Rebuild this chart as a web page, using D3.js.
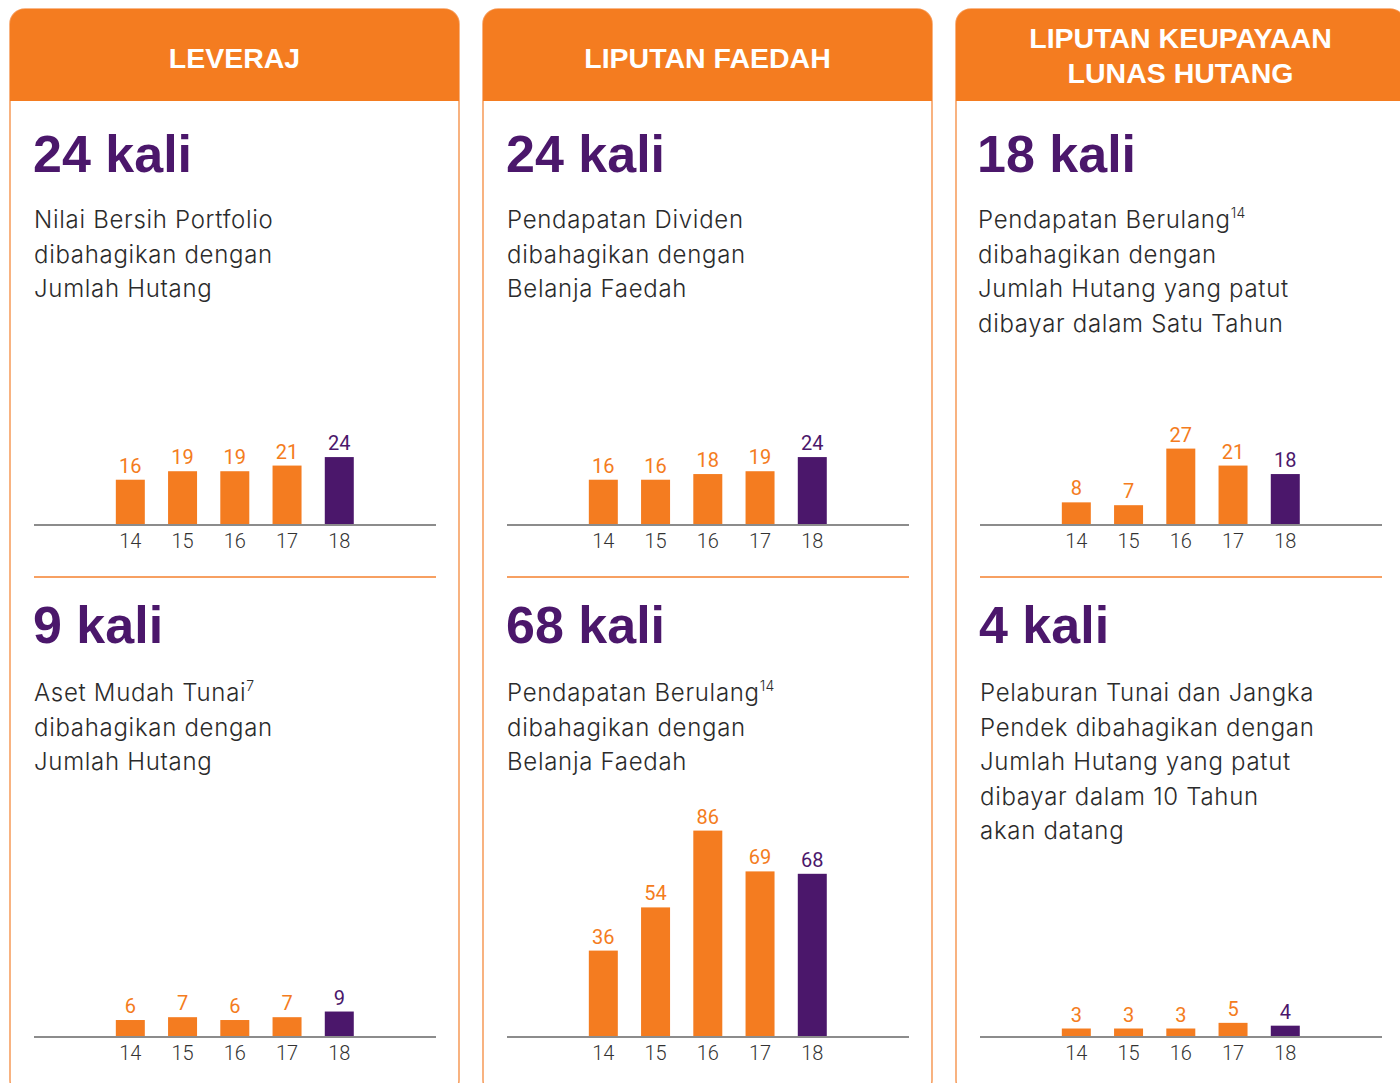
<!DOCTYPE html>
<html>
<head>
<meta charset="utf-8">
<script src="https://cdn.jsdelivr.net/npm/d3@7"></script>
<style>
  html, body { margin: 0; padding: 0; background: #fff; }
  svg { display: block; }
</style>
</head>
<body>
<svg id="chart" width="1400" height="1083"></svg>
<script>
// data
var years = ["14", "15", "16", "17", "18"];
var leverajValues = [16, 19, 19, 21, 24];
var asetTunaiValues = [6, 7, 6, 7, 9];
var dividenValues = [16, 16, 18, 19, 24];
var berulangFaedahValues = [36, 54, 86, 69, 68];
var berulangSatuTahunValues = [8, 7, 27, 21, 18];
var pelaburanValues = [3, 3, 3, 5, 4];

var headers = [["LEVERAJ"], ["LIPUTAN FAEDAH"], ["LIPUTAN KEUPAYAAN", "LUNAS HUTANG"]];
var headlines = [["24 kali", "9 kali"], ["24 kali", "68 kali"], ["18 kali", "4 kali"]];
// each line: [text, superscript]
var descriptions = [
  [
    [["Nilai Bersih Portfolio"], ["dibahagikan dengan"], ["Jumlah Hutang"]],
    [["Aset Mudah Tunai", "7"], ["dibahagikan dengan"], ["Jumlah Hutang"]]
  ],
  [
    [["Pendapatan Dividen"], ["dibahagikan dengan"], ["Belanja Faedah"]],
    [["Pendapatan Berulang", "14"], ["dibahagikan dengan"], ["Belanja Faedah"]]
  ],
  [
    [["Pendapatan Berulang", "14"], ["dibahagikan dengan"], ["Jumlah Hutang yang patut"], ["dibayar dalam Satu Tahun"]],
    [["Pelaburan Tunai dan Jangka"], ["Pendek dibahagikan dengan"], ["Jumlah Hutang yang patut"], ["dibayar dalam 10 Tahun"], ["akan datang"]]
  ]
];
var series = [
  [leverajValues, asetTunaiValues],
  [dividenValues, berulangFaedahValues],
  [berulangSatuTahunValues, pelaburanValues]
];

var ORANGE = "#f47c20";
var PURPLE = "#4b176b";
var BORDER = "#f7a062";
var boldFont = "'Liberation Sans', Arial, sans-serif";
var lightFont = "Inter, Roboto, sans-serif";
var numFont = "Roboto, 'Liberation Sans', sans-serif";

var svg = d3.select("#chart");

var panelX = [10, 483, 956];
var panelW = 449;
var headTop = 9, headBottom = 101, radius = 15;

var headlineY = [172, 643];
var descY = [228, 701];
var lineH = 34.6;
var baseY = [525, 1037];
var barHeights = [[283, 283], [283, 240], [283, 283]]; // pixels for 100 units
var sepY = 577;

function headerPath(x, w) {
  var p = d3.path();
  p.moveTo(x, headBottom);
  p.lineTo(x, headTop + radius);
  p.arcTo(x, headTop, x + radius, headTop, radius);
  p.lineTo(x + w - radius, headTop);
  p.arcTo(x + w, headTop, x + w, headTop + radius, radius);
  p.lineTo(x + w, headBottom);
  p.closePath();
  return p.toString();
}

panelX.forEach(function(px, col) {
  var g = svg.append("g");

  // outline of the panel, bottom runs off the picture
  g.append("rect")
    .attr("x", px).attr("y", headTop)
    .attr("width", panelW).attr("height", 1095 - headTop)
    .attr("rx", radius)
    .attr("fill", "none")
    .attr("stroke", BORDER)
    .attr("stroke-width", 1.6);

  g.append("path")
    .attr("d", headerPath(px, panelW))
    .attr("fill", ORANGE);

  var hLines = headers[col];
  hLines.forEach(function(t, i) {
    g.append("text")
      .attr("x", px + panelW / 2)
      .attr("y", hLines.length === 1 ? 68 : 48 + i * 35)
      .attr("text-anchor", "middle")
      .attr("font-family", boldFont)
      .attr("font-weight", "bold")
      .attr("font-size", 28.5)
      .attr("fill", "#fff")
      .text(t);
  });

  [0, 1].forEach(function(row) {
    // third panel's upper block sits a touch further left
    var tx = px + 23 - (col === 2 && row === 0 ? 2 : 0);

    g.append("text")
      .attr("x", tx)
      .attr("y", headlineY[row])
      .attr("font-family", boldFont)
      .attr("font-weight", "bold")
      .attr("font-size", 52)
      .attr("fill", PURPLE)
      .text(headlines[col][row]);

    descriptions[col][row].forEach(function(line, i) {
      var t = g.append("text")
        .attr("x", tx + 1)
        .attr("y", descY[row] + i * lineH)
        .attr("font-family", lightFont)
        .attr("font-weight", 300)
        .attr("font-size", 24)
        .attr("letter-spacing", 0.7)
        .attr("fill", "#2b2b2b");
      t.append("tspan").text(line[0]);
      if (line[1]) {
        t.append("tspan")
          .attr("font-size", 14)
          .attr("letter-spacing", 0.3)
          .attr("dy", -10)
          .text(line[1]);
      }
    });

    // bar chart
    var values = series[col][row];
    var base = baseY[row];
    var x = d3.scaleBand()
      .domain(years)
      .range([px + 94.2, px + 355.4])
      .paddingInner(0.445)
      .paddingOuter(0.2225);
    var y = d3.scaleLinear()
      .domain([0, 100])
      .range([base, base - barHeights[col][row]]);

    var last = years.length - 1;
    g.selectAll(null)
      .data(values)
      .enter().append("rect")
      .attr("x", function(d, i) { return x(years[i]); })
      .attr("y", function(d) { return y(d); })
      .attr("width", x.bandwidth())
      .attr("height", function(d) { return base - y(d); })
      .attr("fill", function(d, i) { return i === last ? PURPLE : ORANGE; });

    g.selectAll(null)
      .data(values)
      .enter().append("text")
      .attr("x", function(d, i) { return x(years[i]) + x.bandwidth() / 2; })
      .attr("y", function(d) { return y(d) - 7; })
      .attr("text-anchor", "middle")
      .attr("font-family", numFont)
      .attr("font-weight", 400)
      .attr("font-size", 20)
      .attr("fill", function(d, i) { return i === last ? PURPLE : ORANGE; })
      .text(function(d) { return d; });

    var axis = d3.axisBottom(x).tickSize(0).tickPadding(9);
    var ag = g.append("g")
      .attr("transform", "translate(0," + base + ")")
      .call(axis);
    ag.select(".domain").remove();
    ag.selectAll("text")
      .attr("font-family", numFont)
      .attr("font-weight", 300)
      .attr("font-size", 20)
      .attr("fill", "#333")
      .attr("dy", "0.71em");

    g.append("line")
      .attr("x1", px + 24).attr("x2", px + 426)
      .attr("y1", base).attr("y2", base)
      .attr("stroke", "#8c8c8c")
      .attr("stroke-width", 2);

    if (row === 0) {
      g.append("line")
        .attr("x1", px + 24).attr("x2", px + 426)
        .attr("y1", sepY).attr("y2", sepY)
        .attr("stroke", BORDER)
        .attr("stroke-width", 2);
    }
  });
});
</script>
</body>
</html>
